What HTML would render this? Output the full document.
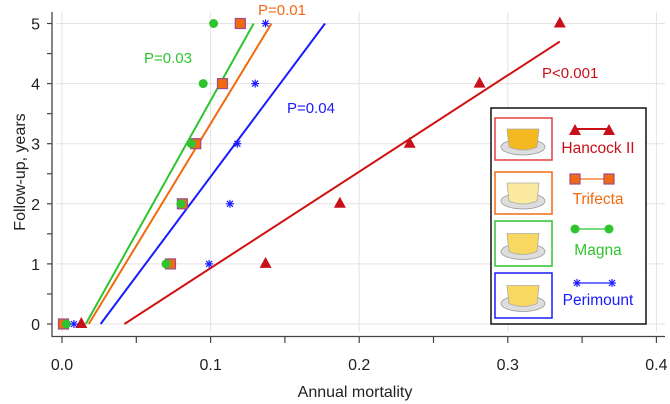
<!DOCTYPE html>
<html><head><meta charset="utf-8"><style>
body{margin:0;background:#fff}
svg{display:block;font-family:"Liberation Sans",Arial,sans-serif}
</style></head><body>
<svg id="c" width="670" height="404" viewBox="0 0 670 404"></svg>
<script>
const hancockX=[0.013,0.137,0.187,0.234,0.281,0.335];
const hancockY=[0,1,2,3,4,5];
const trifectaX=[0.001,0.073,0.081,0.090,0.108,0.120];
const trifectaY=[0,1,2,3,4,5];
const magnaX=[0.003,0.070,0.080,0.087,0.095,0.102];
const magnaY=[0,1,2,3,4,5];
const perimountX=[0.008,0.099,0.113,0.118,0.130,0.137];
const perimountY=[0,1,2,3,4,5];
const hancockFit=[[0.042,0],[0.335,4.7]];
const trifectaFit=[[0.018,0],[0.141,5]];
const magnaFit=[[0.016,0],[0.129,5]];
const perimountFit=[[0.026,0],[0.177,5]];
const xTicks=[0,0.1,0.2,0.3,0.4];
const xTickLabels=["0.0","0.1","0.2","0.3","0.4"];
const yTicks=[0,1,2,3,4,5];

const svg=document.getElementById('c');
const NS='http://www.w3.org/2000/svg';
const X=v=>62+v*1486;
const Y=v=>324-v*60.1;
function el(t,a,p){const e=document.createElementNS(NS,t);for(const k in a)e.setAttribute(k,a[k]);(p||svg).appendChild(e);return e;}

xTicks.forEach(v=>{const g=el('line',{x1:X(v),x2:X(v),y1:12,y2:332,stroke:'#e3e3e3','stroke-width':1});

});
yTicks.forEach(v=>{const g=el('line',{x1:56,x2:665,y1:Y(v),y2:Y(v),stroke:'#e3e3e3','stroke-width':1});

});
let a=el('line',{x1:52,x2:52,y1:12,y2:337,stroke:'#444','stroke-width':1.3});


a=el('line',{x1:52,x2:665,y1:336.5,y2:336.5,stroke:'#444','stroke-width':1.3});


for(let v=0;v<=0.4001;v+=0.05){el('line',{x1:X(v),x2:X(v),y1:336,y2:343,stroke:'#444','stroke-width':1.2});}
for(let v=0;v<=5.01;v+=0.5){el('line',{x1:47,x2:52,y1:Y(v),y2:Y(v),stroke:'#444','stroke-width':1.2});}
xTicks.forEach((v,i)=>{const t=el('text',{x:X(v),y:370,'text-anchor':'middle','font-size':16,fill:'#222'});t.textContent=xTickLabels[i];

});
yTicks.forEach(v=>{const t=el('text',{x:40,y:Y(v)+6,'text-anchor':'end','font-size':16,fill:'#222'});t.textContent=v;

});
let t=el('text',{x:355,y:397,'text-anchor':'middle','font-size':16,fill:'#222'});t.textContent='Annual mortality';


t=el('text',{x:0,y:0,'text-anchor':'middle','font-size':16,fill:'#222',transform:'translate(25,172) rotate(-90)'});t.textContent='Follow-up, years';



function tri(x,y,c,p){return el('polygon',{points:`${x},${y-7} ${x-6},${y+4} ${x+6},${y+4}`,fill:c},p);}
function sq(x,y,p){return el('rect',{x:x-5,y:y-5,width:10,height:10,fill:'#f26a10',stroke:'#9b4d8e','stroke-width':1.2},p);}
function dot(x,y,p){return el('circle',{cx:x,cy:y,r:4.5,fill:'#2fc42f'},p);}
function star(x,y,p){const g=el('g',{stroke:'#1a1aff','stroke-width':1.2},p);
[[-4,0,4,0],[0,-4,0,4],[-3,-3,3,3],[-3,3,3,-3]].forEach(d=>el('line',{x1:x+d[0],y1:y+d[1],x2:x+d[2],y2:y+d[3]},g));return g;}

function fit(f,c,name){const l=el('line',{x1:X(f[0][0]),y1:Y(f[0][1]),x2:X(f[1][0]),y2:Y(f[1][1]),stroke:c,'stroke-width':2});

}
fit(hancockFit,'#d01010','hancock-fit-line');
fit(trifectaFit,'#f26a10','trifecta-fit-line');
fit(magnaFit,'#2fc42f','magna-fit-line');
fit(perimountFit,'#1a1aff','perimount-fit-line');

hancockX.forEach((v,i)=>{const m=tri(X(v),Y(hancockY[i]),'#c8101a');

});
trifectaX.forEach((v,i)=>{const m=sq(X(v),Y(trifectaY[i]));

});
magnaX.forEach((v,i)=>{const m=dot(X(v),Y(magnaY[i]));

});
perimountX.forEach((v,i)=>{const m=star(X(v),Y(perimountY[i]));

});

function lab(x,y,s,c,n){const e=el('text',{x:x,y:y,'font-size':15,fill:c});e.textContent=s;

}
lab(258,15,'P=0.01','#f26a10','p-value-trifecta');
lab(144,63,'P=0.03','#2fc42f','p-value-magna');
lab(287,113,'P=0.04','#1a1aff','p-value-perimount');
lab(542,78,'P<0.001','#c8101a','p-value-hancock');

const lg=el('g',{});


el('rect',{x:491,y:108,width:155,height:216,fill:'#fff',stroke:'#111','stroke-width':1.5},lg);
const items=[
 {n:'Hancock II',c:'#c8101a',bc:'#e04040',by:118,bh:42,my:129,ty:153,leaf:'#f4b820',k:'hancock'},
 {n:'Trifecta',c:'#f26a10',bc:'#f26a10',by:172,bh:42,my:179,ty:204,leaf:'#fbeaa0',k:'trifecta'},
 {n:'Magna',c:'#2fc42f',bc:'#2fc42f',by:221,bh:45,my:229,ty:255,leaf:'#f8d860',k:'magna'},
 {n:'Perimount',c:'#1a1aff',bc:'#1a1aff',by:273,bh:45,my:283,ty:305,leaf:'#f8d860',k:'perimount'}];
items.forEach(it=>{
 const g=el('g',{},lg);
 
 
 el('rect',{x:495,y:it.by,width:57,height:it.bh,fill:'#fff',stroke:it.bc,'stroke-width':1.5},g);
 const cx=523,cy=it.by+it.bh/2;
 el('ellipse',{cx:cx,cy:cy+8,rx:22,ry:8,fill:'#ddd',stroke:'#999','stroke-width':0.8},g);
 el('path',{d:`M${cx-16},${cy-10} L${cx+16},${cy-10} L${cx+14},${cy+8} Q${cx},${cy+14} ${cx-14},${cy+8}Z`,fill:it.leaf,stroke:'#aaa','stroke-width':0.8},g);
 el('line',{x1:575,x2:609,y1:it.my,y2:it.my,stroke:it.c,'stroke-width':it.k==='hancock'?2:1.3},g);
 if(it.k==='hancock'){tri(575,it.my+2,it.c,g);tri(609,it.my+2,it.c,g);}
 if(it.k==='trifecta'){sq(575,it.my,g);sq(609,it.my,g);}
 if(it.k==='magna'){dot(575,it.my,g);dot(609,it.my,g);}
 if(it.k==='perimount'){star(577,it.my,g);star(612,it.my,g);}
 const tx=el('text',{x:598,y:it.ty,'text-anchor':'middle','font-size':15.5,fill:it.c},g);tx.textContent=it.n;
});
</script>
</body></html>
